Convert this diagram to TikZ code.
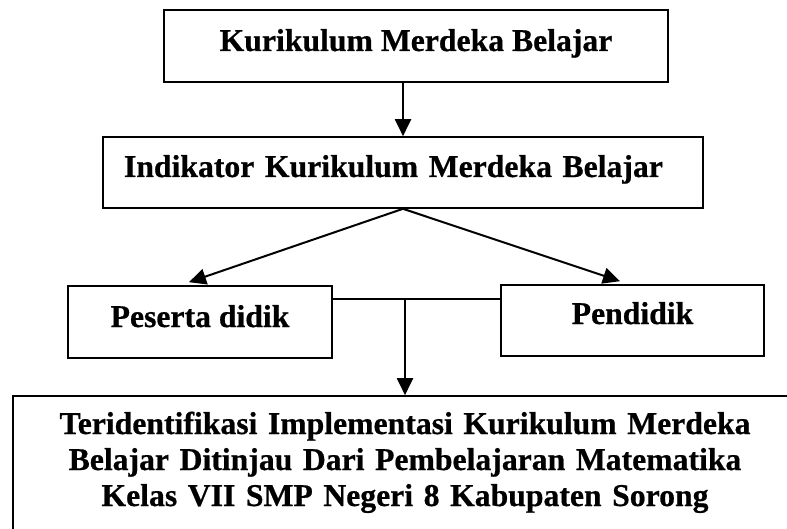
\documentclass[tikz,border=0pt]{standalone}
\usepackage{fontspec}
\setmainfont{Liberation Serif}[BoldFeatures={FakeBold=0.6}]
\usetikzlibrary{arrows.meta,calc}
\begin{document}
\begin{tikzpicture}[x=1pt,y=-1pt,
  box/.style={draw,line width=1.6pt,inner sep=0pt,anchor=base,
    font=\fontsize{31.7}{36}\selectfont\bfseries},
  arr/.style={line width=2pt,-{Triangle[width=16pt,length=17pt]}},
  ln/.style={line width=2pt}]
\clip (0,0) rectangle (787,529);
\fill[white] (0,0) rectangle (787,529);
\node[box,minimum width=504pt,text height=41pt,text depth=31pt] (b1) at (416,51) {Kurikulum Merdeka Belajar};
\node[box,inner xsep=21pt,text width=558pt,align=left,text height=40pt,text depth=31pt] (b2) at (403,177) {Indikator Kurikulum Merdeka Belajar};
\node[box,minimum width=264pt,text height=41pt,text depth=31pt] (p1) at (200,327) {Peserta didik};
\node[box,minimum width=263pt,text height=39pt,text depth=32pt] (p2) at (632.5,324) {Pendidik};
\node[box,text width=784pt,align=center,text height=38pt,text depth=107pt] (b3) at (405,434) {Teridentifikasi Implementasi Kurikulum Merdeka\\Belajar Ditinjau Dari Pembelajaran Matematika\\Kelas VII SMP Negeri 8 Kabupaten Sorong};
\coordinate (j) at (405,299);
\draw[arr] (b1.south -| b2.north) -- (b2.north);
\draw[arr] (b2.south) -- ($(p1.north)+(-11,-3)$);
\draw[arr] (b2.south) -- ($(p2.north)+(-12.5,-3)$);
\draw[ln] (p1.east |- j) -- (p2.west |- j);
\draw[arr] (j) -- (j |- b3.north);
\end{tikzpicture}
\end{document}
